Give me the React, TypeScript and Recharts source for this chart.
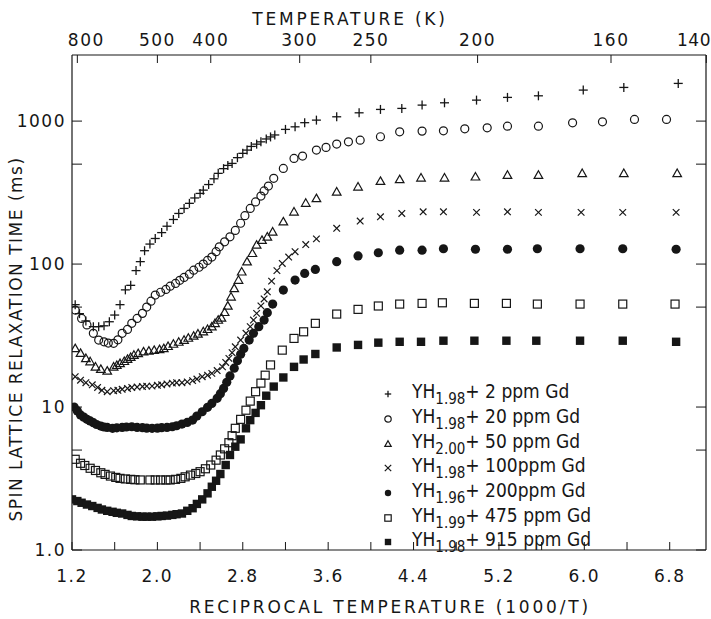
import React from 'react';
import { ScatterChart, Scatter, XAxis, YAxis, Legend, Customized } from 'recharts';

// ---------- axis definitions ----------
const X_DOMAIN = [1.2, 7.14];
const Y_DOMAIN = [1, 2900];
const bottomTicks = [1.2, 1.6, 2.0, 2.4, 2.8, 3.2, 3.6, 4.0, 4.4, 4.8, 5.2, 5.6, 6.0, 6.4, 6.8];
const bottomLabelled = [1.2, 2.0, 2.8, 3.6, 4.4, 5.2, 6.0, 6.8];
const topTempK = [800, 500, 400, 300, 250, 200, 160, 140];
const yTicks = [1, 5, 10, 50, 100, 500, 1000];
const yLabelValues = [1, 10, 100, 1000];
const yLabelTexts = ['1.0', '10', '100', '1000'];

// ---------- data: [1000/T, T1 (ms)] ----------
const gd2ppm = [
  [1.23, 52], [1.27, 45], [1.33, 40], [1.4, 36.5], [1.45, 36.5], [1.5, 37], [1.55, 39.5], [1.6, 44], [1.65, 52],
  [1.7, 66], [1.75, 71], [1.8, 90], [1.84, 104], [1.88, 124], [1.93, 138], [1.98, 151], [2.04, 166], [2.09, 184],
  [2.15, 205], [2.2, 226], [2.25, 245], [2.3, 266], [2.35, 290], [2.4, 312], [2.43, 329], [2.48, 360], [2.53, 395],
  [2.57, 431], [2.62, 465], [2.66, 490], [2.7, 506], [2.75, 555], [2.8, 595], [2.84, 627], [2.88, 665], [2.93, 690],
  [2.97, 716], [3.02, 750], [3.06, 775], [3.1, 800], [3.2, 875], [3.29, 912], [3.38, 975], [3.49, 1016], [3.68, 1072],
  [3.89, 1143], [4.09, 1207], [4.29, 1227], [4.48, 1294], [4.69, 1343], [4.99, 1402], [5.28, 1465], [5.57, 1503],
  [5.99, 1648], [6.37, 1720], [6.88, 1835],
];
const gd20ppm = [
  [1.23, 47.7], [1.29, 41.7], [1.34, 37.5], [1.4, 32.8], [1.45, 29.4], [1.5, 28.6], [1.54, 28], [1.59, 27.9],
  [1.63, 29.5], [1.67, 32.8], [1.72, 34.9], [1.76, 38.5], [1.81, 41.7], [1.86, 45.2], [1.9, 50], [1.94, 55], [1.98, 60.7],
  [2.03, 63.5], [2.08, 66.5], [2.12, 70], [2.17, 73.2], [2.21, 77], [2.25, 80.7], [2.3, 85], [2.34, 90.7], [2.39, 95],
  [2.43, 100], [2.47, 106], [2.51, 112], [2.55, 122], [2.58, 132], [2.63, 143], [2.68, 155], [2.73, 172], [2.78, 193],
  [2.82, 218], [2.87, 245], [2.92, 272], [2.97, 299], [3.0, 325], [3.04, 351], [3.09, 398], [3.18, 467], [3.28, 548],
  [3.36, 569], [3.49, 627], [3.58, 655], [3.68, 691], [3.79, 716], [3.9, 736], [4.09, 777], [4.27, 842], [4.48, 851],
  [4.68, 855], [4.88, 883], [5.09, 898], [5.28, 922], [5.57, 922], [5.89, 973], [6.17, 989], [6.47, 1028], [6.77, 1028],
];
const gd50ppm = [
  [1.23, 25.7], [1.28, 23.8], [1.33, 21.9], [1.37, 20.8], [1.42, 19.1], [1.47, 18.4], [1.53, 17.9], [1.59, 19.1],
  [1.62, 19.6], [1.65, 20.2], [1.69, 20.9], [1.72, 21.6], [1.75, 22.3], [1.78, 23.1], [1.82, 23.7], [1.87, 24.4],
  [1.92, 24.7], [1.97, 25], [2.02, 25.3], [2.06, 25.7], [2.1, 26.6], [2.15, 27.6], [2.2, 28.5], [2.25, 29.4],
  [2.29, 30.4], [2.34, 31.4], [2.38, 32.5], [2.43, 33.7], [2.47, 35], [2.51, 36.5], [2.54, 38.5], [2.57, 40.6],
  [2.6, 42], [2.63, 46], [2.66, 51], [2.69, 59], [2.72, 67.6], [2.76, 77.3], [2.79, 88.3], [2.84, 104], [2.89, 119],
  [2.93, 136], [2.98, 147], [3.03, 155], [3.08, 168], [3.18, 198], [3.28, 232], [3.39, 267], [3.49, 288], [3.68, 320],
  [3.88, 347], [4.09, 380], [4.27, 391], [4.47, 401], [4.69, 401], [4.98, 408], [5.28, 419], [5.57, 419], [5.98, 431],
  [6.37, 431], [6.87, 431],
];
const gd100ppm = [
  [1.23, 16.3], [1.28, 15.4], [1.33, 14.8], [1.39, 14.3], [1.44, 13.7], [1.48, 13.1], [1.53, 12.8], [1.59, 13],
  [1.63, 13.1], [1.67, 13.3], [1.72, 13.5], [1.76, 13.7], [1.81, 13.8], [1.86, 13.9], [1.9, 14], [1.95, 14],
  [2.0, 14.2], [2.04, 14.3], [2.09, 14.5], [2.14, 14.7], [2.18, 14.8], [2.23, 14.8], [2.28, 15], [2.33, 15.3],
  [2.37, 15.7], [2.42, 16.3], [2.47, 16.7], [2.51, 17.2], [2.56, 18], [2.61, 19.1], [2.64, 20.5], [2.67, 21.9],
  [2.7, 24], [2.73, 26.4], [2.78, 29.4], [2.83, 32.8], [2.87, 36.5], [2.9, 40.6], [2.93, 45.2], [2.97, 51], [3.0, 57],
  [3.03, 64], [3.07, 76], [3.12, 90], [3.17, 101], [3.23, 112], [3.29, 122], [3.39, 137], [3.49, 150], [3.68, 178],
  [3.9, 200], [4.09, 214], [4.29, 226], [4.49, 232], [4.68, 232], [4.99, 230], [5.28, 232], [5.57, 230], [5.97, 230],
  [6.36, 230], [6.86, 230],
];
const gd200ppm = [
  [1.22, 10], [1.25, 9.4], [1.28, 8.8], [1.31, 8.5], [1.34, 8.2], [1.37, 8], [1.4, 7.77], [1.43, 7.55], [1.47, 7.36],
  [1.5, 7.25], [1.53, 7.2], [1.58, 7.1], [1.62, 7.15], [1.67, 7.2], [1.71, 7.25], [1.76, 7.28], [1.81, 7.2],
  [1.86, 7.17], [1.9, 7.12], [1.95, 7.1], [2.0, 7.12], [2.04, 7.17], [2.09, 7.2], [2.14, 7.28], [2.18, 7.4],
  [2.23, 7.6], [2.28, 7.8], [2.33, 8.1], [2.37, 8.65], [2.42, 9.27], [2.47, 9.95], [2.51, 10.6], [2.56, 11.5],
  [2.59, 12.4], [2.62, 13.5], [2.65, 14.9], [2.68, 16.5], [2.72, 18.7], [2.75, 21.1], [2.78, 23.4], [2.81, 25.7],
  [2.86, 29.4], [2.9, 32.8], [2.95, 36.5], [3.0, 40.6], [3.03, 45.7], [3.08, 52.5], [3.18, 65.8], [3.29, 77.3],
  [3.38, 86], [3.48, 91.8], [3.68, 104], [3.88, 114], [4.07, 120], [4.27, 125], [4.48, 125], [4.68, 128], [4.98, 127],
  [5.28, 127], [5.56, 128], [5.96, 128], [6.36, 128], [6.86, 127],
];
const gd475ppm = [
  [1.23, 4.31], [1.28, 4.04], [1.32, 3.9], [1.37, 3.73], [1.42, 3.6], [1.47, 3.47], [1.51, 3.38], [1.56, 3.29],
  [1.61, 3.22], [1.65, 3.17], [1.7, 3.14], [1.75, 3.12], [1.79, 3.1], [1.84, 3.09], [1.93, 3.09], [1.98, 3.09],
  [2.03, 3.09], [2.08, 3.09], [2.12, 3.09], [2.17, 3.12], [2.22, 3.17], [2.26, 3.25], [2.31, 3.34], [2.36, 3.43],
  [2.4, 3.53], [2.45, 3.7], [2.5, 3.93], [2.55, 4.25], [2.59, 4.62], [2.63, 5.1], [2.67, 5.63], [2.7, 6.3],
  [2.73, 7.1], [2.78, 8.2], [2.83, 9.5], [2.87, 11], [2.92, 12.8], [2.97, 14.7], [3.01, 16.7], [3.06, 19.7],
  [3.17, 25], [3.28, 30.2], [3.37, 33.6], [3.48, 38.5], [3.68, 44.7], [3.88, 48.2], [4.07, 50.9], [4.27, 52.5],
  [4.48, 53.1], [4.67, 53.6], [4.97, 53.1], [5.27, 53.1], [5.56, 52.5], [5.96, 52.5], [6.36, 52.5], [6.85, 52.5],
];
const gd915ppm = [
  [1.2, 2.26], [1.25, 2.2], [1.29, 2.14], [1.34, 2.08], [1.39, 2.03], [1.44, 1.97], [1.48, 1.92], [1.53, 1.88],
  [1.58, 1.85], [1.62, 1.82], [1.67, 1.8], [1.72, 1.76], [1.76, 1.73], [1.81, 1.72], [1.86, 1.71], [1.9, 1.71],
  [1.95, 1.71], [2.0, 1.72], [2.04, 1.73], [2.09, 1.74], [2.14, 1.76], [2.18, 1.78], [2.23, 1.8], [2.28, 1.88],
  [2.33, 1.96], [2.37, 2.1], [2.42, 2.26], [2.47, 2.49], [2.51, 2.77], [2.55, 3.05], [2.59, 3.4], [2.64, 3.93],
  [2.68, 4.62], [2.73, 5.28], [2.78, 5.94], [2.83, 7.1], [2.87, 8.1], [2.92, 9.1], [2.97, 10.3], [3.02, 12],
  [3.09, 13.9], [3.18, 16.1], [3.28, 19.1], [3.37, 21.5], [3.48, 23.5], [3.68, 26.1], [3.88, 27.2], [4.07, 28.2],
  [4.27, 28.6], [4.47, 28.6], [4.68, 29.1], [4.97, 29.1], [5.27, 29.1], [5.55, 29.1], [5.96, 29.1], [6.36, 29.1],
  [6.86, 28.6],
];

// legend texts
const legendBase = ['YH', 'YH', 'YH', 'YH', 'YH', 'YH', 'YH'];
const legendSub = ['1.98', '1.98', '2.00', '1.98', '1.96', '1.99', '1.98'];
const legendRest = ['+ 2 ppm  Gd', '+ 20 ppm Gd', '+ 50 ppm Gd', '+ 100ppm Gd', '+ 200ppm Gd', '+ 475 ppm Gd', '+ 915 ppm Gd'];

// ---------- styling ----------
const INK = '#161616';
const FONT = "'DejaVu Sans', 'Liberation Sans', sans-serif";
const NARROW = "'Liberation Sans Narrow', 'DejaVu Sans Condensed', 'Liberation Sans', sans-serif";

const PlusShape = ({ cx, cy, s = 4.5 }: any) => (
  <g stroke={INK} strokeWidth={1.3}>
    <line x1={cx - s} y1={cy} x2={cx + s} y2={cy} />
    <line x1={cx} y1={cy - s} x2={cx} y2={cy + s} />
  </g>
);
const CircleShape = ({ cx, cy, s = 4 }: any) => (
  <circle cx={cx} cy={cy} r={s} fill="none" stroke={INK} strokeWidth={1.2} />
);
const TriShape = ({ cx, cy, s = 4.3 }: any) => (
  <polygon points={`${cx},${cy - s} ${cx + s},${cy + s * 0.75} ${cx - s},${cy + s * 0.75}`} fill="none" stroke={INK} strokeWidth={1.2} />
);
const XShape = ({ cx, cy, s = 3.3 }: any) => (
  <g stroke={INK} strokeWidth={1.2}>
    <line x1={cx - s} y1={cy - s} x2={cx + s} y2={cy + s} />
    <line x1={cx - s} y1={cy + s} x2={cx + s} y2={cy - s} />
  </g>
);
const DotShape = ({ cx, cy, s = 4.6 }: any) => <circle cx={cx} cy={cy} r={s} fill={INK} />;
const OpenSqShape = ({ cx, cy, s = 4 }: any) => (
  <rect x={cx - s} y={cy - s} width={2 * s} height={2 * s} fill="none" stroke={INK} strokeWidth={1.2} />
);
const FillSqShape = ({ cx, cy, s = 4.2 }: any) => (
  <rect x={cx - s} y={cy - s} width={2 * s} height={2 * s} fill={INK} />
);
const NoShape = () => <g />;

const seriesList = [
  { name: 'gd2', data: gd2ppm, Shape: PlusShape },
  { name: 'gd20', data: gd20ppm, Shape: CircleShape },
  { name: 'gd50', data: gd50ppm, Shape: TriShape },
  { name: 'gd100', data: gd100ppm, Shape: XShape },
  { name: 'gd200', data: gd200ppm, Shape: DotShape },
  { name: 'gd475', data: gd475ppm, Shape: OpenSqShape },
  { name: 'gd915', data: gd915ppm, Shape: FillSqShape },
];

const textStyle = { fontFamily: FONT, fontSize: 17, fill: INK, letterSpacing: 1.5 } as const;

const BottomTick = ({ x, y, payload }: any) => {
  const v = payload.value;
  const lab = bottomLabelled.some((b) => Math.abs(b - v) < 1e-6);
  return (
    <g>
      <line x1={x} y1={y} x2={x} y2={y - 8} stroke={INK} strokeWidth={1} />
      {lab && (
        <text x={x} y={y + 32} textAnchor="middle" style={textStyle}>
          {v.toFixed(1)}
        </text>
      )}
    </g>
  );
};
const TopTick = ({ x, y, payload, index }: any) => {
  const last = index === topTempK.length - 1;
  const first = index === 0;
  return (
    <g>
      <line x1={x} y1={y} x2={x} y2={y + 8} stroke={INK} strokeWidth={1} />
      <text
        x={last ? 711 : first ? x + 9 : x}
        y={y - 9}
        textAnchor={last ? 'end' : 'middle'}
        style={{ ...textStyle, letterSpacing: last ? 0.5 : 1.5 }}
      >
        {Math.round(1000 / payload.value)}
      </text>
    </g>
  );
};
const LeftTick = ({ x, y, payload }: any) => {
  const i = yLabelValues.indexOf(payload.value);
  return (
    <g>
      <line x1={x} y1={y} x2={x + 10} y2={y} stroke={INK} strokeWidth={1} />
      {i >= 0 && (
        <text x={x - 6} y={y + 6} textAnchor="end" style={textStyle}>
          {yLabelTexts[i]}
        </text>
      )}
    </g>
  );
};
const RightTick = ({ x, y }: any) => <line x1={x} y1={y} x2={x - 10} y2={y} stroke={INK} strokeWidth={1} />;

const titleStyle = { ...textStyle, letterSpacing: 2.8 };
const Titles = () => (
  <g>
    <text x={350} y={25} textAnchor="middle" style={titleStyle}>TEMPERATURE (K)</text>
    <text x={390} y={613} textAnchor="middle" style={titleStyle}>RECIPROCAL TEMPERATURE (1000/T)</text>
    <text x={22} y={339} textAnchor="middle" transform="rotate(-90 22 339)" style={{ ...textStyle, letterSpacing: 1.5 }}>
      SPIN LATTICE RELAXATION TIME (ms)
    </text>
  </g>
);

const LegendContent = () => (
  <div style={{ fontFamily: NARROW, fontSize: 19, color: INK }}>
    {seriesList.map((s, i) => (
      <div key={s.name} style={{ display: 'flex', alignItems: 'center', height: 24.7, whiteSpace: 'nowrap' }}>
        <svg width={32} height={20} style={{ flex: 'none' }}>
          <s.Shape cx={8} cy={10} s={3.2} />
        </svg>
        <span>
          {legendBase[i]}
          <sub style={{ fontSize: 15, verticalAlign: -6 }}>{legendSub[i]}</sub>
          {legendRest[i]}
        </span>
      </div>
    ))}
  </div>
);

export default function App() {
  return (
    <div style={{ position: 'absolute', left: 0, top: 0, background: '#fff' }}>
      <ScatterChart width={711} height={619} margin={{ top: 0, right: 0, bottom: 0, left: 0 }}>
        <XAxis
          xAxisId="b"
          type="number"
          dataKey="x"
          orientation="bottom"
          domain={X_DOMAIN}
          allowDataOverflow
          ticks={bottomTicks}
          interval={0}
          height={69}
          tickSize={0}
          tickMargin={0}
          tickLine={false}
          tick={<BottomTick />}
          axisLine={{ stroke: INK, strokeWidth: 1.2 }}
        />
        <XAxis
          xAxisId="t"
          type="number"
          dataKey="x"
          orientation="top"
          domain={X_DOMAIN}
          allowDataOverflow
          ticks={topTempK.map((t) => 1000 / t)}
          interval={0}
          height={55}
          tickSize={0}
          tickMargin={0}
          tickLine={false}
          tick={<TopTick />}
          axisLine={{ stroke: INK, strokeWidth: 1.2 }}
        />
        <YAxis
          yAxisId="l"
          type="number"
          dataKey="y"
          scale="log"
          domain={Y_DOMAIN}
          allowDataOverflow
          ticks={yTicks}
          interval={0}
          width={72}
          tickSize={0}
          tickMargin={0}
          tickLine={false}
          tick={<LeftTick />}
          axisLine={{ stroke: INK, strokeWidth: 1.2 }}
        />
        <YAxis
          yAxisId="r"
          orientation="right"
          type="number"
          dataKey="y"
          scale="log"
          domain={Y_DOMAIN}
          allowDataOverflow
          ticks={yTicks}
          interval={0}
          width={5}
          tickSize={0}
          tickMargin={0}
          tickLine={false}
          tick={<RightTick />}
          axisLine={{ stroke: INK, strokeWidth: 1.2 }}
        />
        {seriesList.map((s) => (
          <Scatter
            key={s.name}
            name={s.name}
            xAxisId="b"
            yAxisId="l"
            data={s.data.map(([x, y]) => ({ x, y }))}
            isAnimationActive={false}
            shape={(p: any) => <s.Shape cx={p.cx} cy={p.cy} />}
          />
        ))}
        {/* carrier series so the top / right frame axes are rendered; draws no marks */}
        <Scatter
          name="frame"
          xAxisId="t"
          yAxisId="r"
          data={gd2ppm.map(([x, y]) => ({ x, y }))}
          isAnimationActive={false}
          shape={NoShape}
          legendType="none"
        />
        <Legend
          layout="vertical"
          align="center"
          verticalAlign="middle"
          content={<LegendContent />}
          wrapperStyle={{ left: 380, top: 382, width: 320 }}
        />
        <Customized component={Titles} />
      </ScatterChart>
    </div>
  );
}
